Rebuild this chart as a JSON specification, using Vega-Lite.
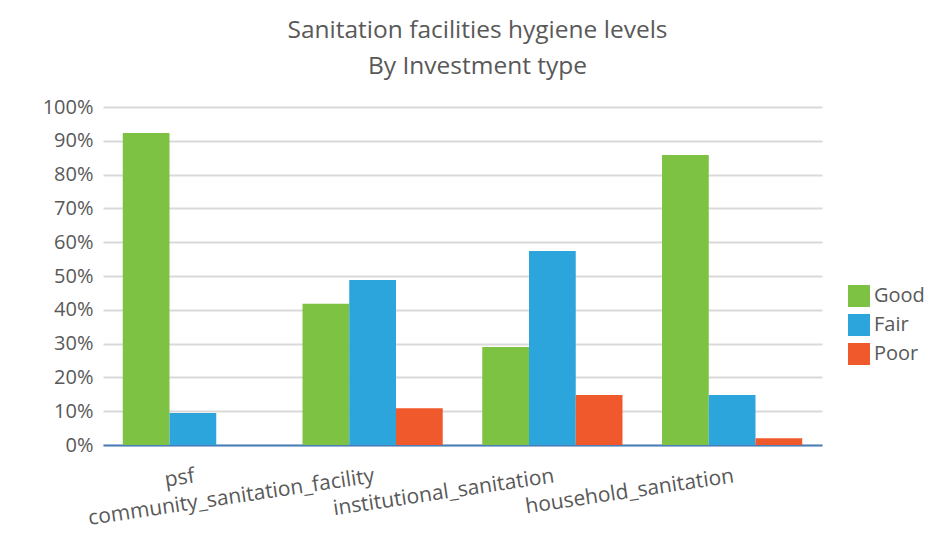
{
  "$schema": "https://vega.github.io/schema/vega-lite/v6.json",
  "autosize": {"type": "none"},
  "width": 719,
  "height": 338,
  "padding": {"left": 103, "top": 107, "right": 119, "bottom": 114},
  "background": "white",
  "config": {
    "font": "Open Sans",
    "view": {"stroke": null}
  },
  "title": {
    "text": ["Sanitation facilities hygiene levels", "By Investment type"],
    "anchor": "middle",
    "frame": "group",
    "dx": 15,
    "offset": 18,
    "fontSize": 24.5,
    "fontWeight": "normal",
    "color": "#595959",
    "lineHeight": 36,
    "font": "Open Sans"
  },
  "data": {
    "values": [
      {"type": "psf", "level": "Good", "value": 0.923},
      {"type": "psf", "level": "Fair", "value": 0.095},
      {"type": "psf", "level": "Poor", "value": 0},
      {"type": "community_sanitation_facility", "level": "Good", "value": 0.418},
      {"type": "community_sanitation_facility", "level": "Fair", "value": 0.488},
      {"type": "community_sanitation_facility", "level": "Poor", "value": 0.109},
      {"type": "institutional_sanitation", "level": "Good", "value": 0.29},
      {"type": "institutional_sanitation", "level": "Fair", "value": 0.574},
      {"type": "institutional_sanitation", "level": "Poor", "value": 0.148},
      {"type": "household_sanitation", "level": "Good", "value": 0.858},
      {"type": "household_sanitation", "level": "Fair", "value": 0.148},
      {"type": "household_sanitation", "level": "Poor", "value": 0.02}
    ]
  },
  "mark": {"type": "bar"},
  "encoding": {
    "x": {
      "field": "type",
      "type": "nominal",
      "sort": null,
      "title": null,
      "scale": {"paddingInner": 0.22, "paddingOuter": 0.11},
      "axis": {
        "labelAngle": -8.5,
        "labelAlign": "right",
        "labelBaseline": "top",
        "labelPadding": 20,
        "labelFontSize": 21,
        "labelColor": "#595959",
        "labelOverlap": false,
        "ticks": false,
        "domainColor": "#4A7EBB",
        "domainWidth": 2,
        "labelLimit": 400
      }
    },
    "xOffset": {"field": "level", "type": "nominal", "sort": ["Good", "Fair", "Poor"]},
    "y": {
      "field": "value",
      "type": "quantitative",
      "title": null,
      "scale": {"domain": [0, 1], "nice": false},
      "axis": {
        "format": ".0%",
        "values": [0, 0.1, 0.2, 0.3, 0.4, 0.5, 0.6, 0.7, 0.8, 0.9, 1],
        "labelOverlap": false,
        "labelFontSize": 20,
        "labelColor": "#595959",
        "labelPadding": 10,
        "ticks": false,
        "domain": false,
        "gridColor": "#D9D9D9",
        "gridWidth": 2
      }
    },
    "color": {
      "field": "level",
      "type": "nominal",
      "sort": ["Good", "Fair", "Poor"],
      "scale": {"domain": ["Good", "Fair", "Poor"], "range": ["#7DC242", "#2CA5DC", "#F0592B"]},
      "legend": {
        "title": null,
        "orient": "none",
        "legendX": 745,
        "legendY": 178,
        "symbolType": "square",
        "symbolSize": 484,
        "symbolStrokeWidth": 0,
        "labelFontSize": 20,
        "labelColor": "#595959",
        "rowPadding": 7,
        "labelOffset": 4
      }
    }
  }
}
